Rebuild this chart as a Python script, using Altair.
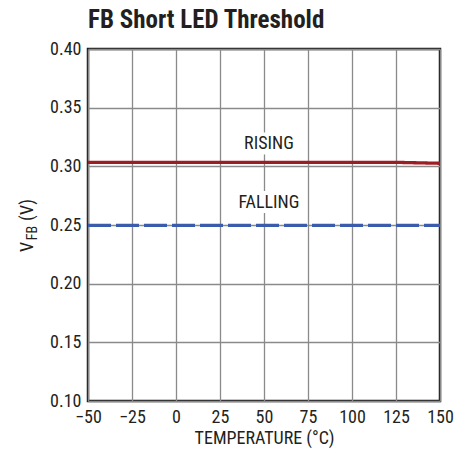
import altair as alt
import pandas as pd

temps = [-50, -25, 0, 25, 50, 75, 100, 125, 150]
rising = [0.3034, 0.3034, 0.3034, 0.3034, 0.3034, 0.3034, 0.3034, 0.3034, 0.3026]
falling = [0.2497, 0.2497, 0.2497, 0.2497, 0.2497, 0.2497, 0.2497, 0.2497, 0.2497]

label_text = ["RISING", "FALLING"]
label_x = [52.8, 52.8]
label_y = [0.3195, 0.2696]
gap_x = [50, 50]

x_ticks = [-50, -25, 0, 25, 50, 75, 100, 125, 150]
y_ticks = [0.10, 0.15, 0.20, 0.25, 0.30, 0.35, 0.40]

FONT = "Roboto Condensed, DejaVu Sans Condensed, Liberation Sans Narrow, Roboto, sans-serif"
FS = 18
TXT = "#231f20"

df = pd.DataFrame({
    "T": temps * 2,
    "V": rising + falling,
    "series": ["RISING"] * len(temps) + ["FALLING"] * len(temps),
})
lab = pd.DataFrame({"text": label_text, "T": label_x, "V": label_y, "G": gap_x})

xs = alt.Scale(domain=[-50, 150], nice=False, zero=False)
ys = alt.Scale(domain=[0.10, 0.40], nice=False, zero=False)

xax = alt.Axis(values=x_ticks, title="TEMPERATURE (°C)", labelExpr="replace(datum.label, '-', '–')",
               grid=True, gridColor="#8a8a8a", gridWidth=1.3, ticks=False, domain=False,
               labelFlush=False, labelOverlap=False,
               labelFont=FONT, labelFontSize=FS, labelColor=TXT, labelPadding=7,
               titleFont=FONT, titleFontSize=FS, titleFontWeight="normal", titleColor=TXT, titlePadding=3)
yax = alt.Axis(values=y_ticks, format=".2f", title=None,
               grid=True, gridColor="#8a8a8a", gridWidth=1.3, ticks=False, domain=False,
               labelFlush=False, labelOverlap=False,
               labelFont=FONT, labelFontSize=FS, labelColor=TXT, labelPadding=7)

lines = alt.Chart(df).mark_line(strokeWidth=3.3).encode(
    x=alt.X("T:Q", scale=xs, axis=xax),
    y=alt.Y("V:Q", scale=ys, axis=yax),
    color=alt.Color("series:N", scale=alt.Scale(domain=["RISING", "FALLING"], range=["#9e1c24", "#3b5cad"]), legend=None),
    strokeDash=alt.StrokeDash("series:N", scale=alt.Scale(domain=["RISING", "FALLING"], range=[[1, 0], [23, 5]]), legend=None),
)

gaps = alt.Chart(lab).mark_rect(color="white", width=6, height=22).encode(
    x=alt.X("G:Q", scale=xs), y=alt.Y("V:Q", scale=ys),
)

texts = alt.Chart(lab).mark_text(font=FONT, fontSize=FS, color=TXT, baseline="middle", dy=1).encode(
    x=alt.X("T:Q", scale=xs), y=alt.Y("V:Q", scale=ys), text="text:N"
)

ytitle_v = alt.Chart(pd.DataFrame({"t": ["V"]})).mark_text(
    font=FONT, fontSize=FS, color=TXT, angle=270, align="center", baseline="alphabetic"
).encode(x=alt.value(-55), y=alt.value(198), text="t:N")
ytitle_fb = alt.Chart(pd.DataFrame({"t": ["FB"]})).mark_text(
    font=FONT, fontSize=14, color=TXT, angle=270, align="center", baseline="alphabetic"
).encode(x=alt.value(-51), y=alt.value(184), text="t:N")
ytitle_rest = alt.Chart(pd.DataFrame({"t": ["(V)"]})).mark_text(
    font=FONT, fontSize=FS, color=TXT, angle=270, align="center", baseline="alphabetic"
).encode(x=alt.value(-55), y=alt.value(161), text="t:N")

chart = alt.layer(lines, gaps, texts, ytitle_v, ytitle_fb, ytitle_rest).properties(
    width=352, height=352,
    title=alt.TitleParams("FB Short LED Threshold", font=FONT, fontSize=25, fontWeight="bold",
                          color=TXT, anchor="start", frame="group", offset=7),
    padding={"left": 80, "top": 41, "right": 20, "bottom": 55},
    autosize=alt.AutoSizeParams(type="none"),
).configure_view(stroke="#1a1a1a", strokeWidth=2.5)

chart.save("out.html", embed_options={"renderer": "svg", "actions": False})
